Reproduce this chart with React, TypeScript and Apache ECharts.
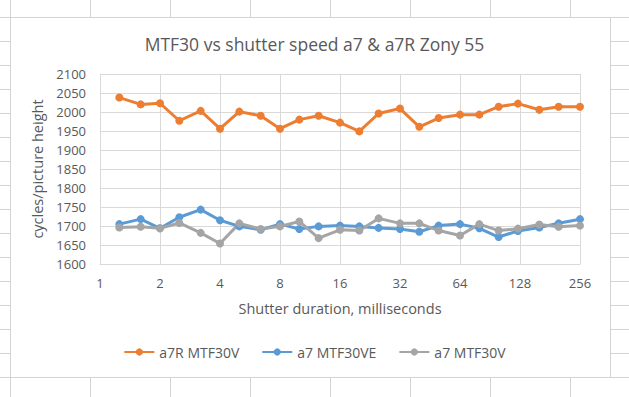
import React, { useEffect, useRef } from "react";
import * as echarts from "echarts";

const durations = [1.25, 1.6, 2, 2.5, 3.2, 4, 5, 6.4, 8, 10, 12.5, 16, 20, 25, 32, 40, 50, 64, 80, 100, 125, 160, 200, 256];
const a7rMTF30V = [2038, 2020, 2023, 1977, 2003, 1956, 2001, 1990, 1956, 1980, 1990, 1972, 1949, 1996, 2009, 1961, 1984, 1993, 1993, 2014, 2022, 2006, 2014, 2014];
const a7MTF30VE = [1705, 1718, 1694, 1723, 1743, 1715, 1699, 1690, 1705, 1692, 1699, 1701, 1699, 1695, 1692, 1685, 1701, 1705, 1694, 1671, 1687, 1696, 1707, 1718];
const a7MTF30V = [1696, 1698, 1694, 1708, 1682, 1654, 1707, 1692, 1699, 1712, 1668, 1690, 1688, 1720, 1707, 1707, 1688, 1675, 1705, 1688, 1693, 1704, 1698, 1701];
const seriesNames = ["a7R MTF30V", "a7 MTF30VE", "a7 MTF30V"];
const seriesColors = ["#ED7D31", "#5B9BD5", "#A5A5A5"];

const FONT = "'Open Sans', 'DejaVu Sans', sans-serif";
const GRIDLINE = "#d9d9d9";
const SHEET = "#d4d4d4";

export default function App() {
  const ref = useRef<HTMLDivElement>(null);
  useEffect(() => {
    document.body.style.margin = "0";
    const chart = echarts.init(ref.current!, null, { renderer: "svg" });
    const pairs = (ys: number[]) => durations.map((x, i) => [x, ys[i]]);
    const sheet: any[] = [];
    [10, 90, 170, 250, 330, 410, 490, 570].forEach((x) =>
      sheet.push({ type: "line", z: -3, shape: { x1: x + 0.5, y1: 0, x2: x + 0.5, y2: 397 }, style: { stroke: SHEET, lineWidth: 1 } })
    );
    for (let y = 17; y <= 397; y += 24) {
      sheet.push({ type: "line", z: -3, shape: { x1: 0, y1: y + 0.5, x2: 629, y2: y + 0.5 }, style: { stroke: SHEET, lineWidth: 1 } });
    }
    sheet.push({ type: "rect", z: -2, shape: { x: 10.5, y: 17.5, width: 600, height: 360 }, style: { fill: "#ffffff", stroke: SHEET, lineWidth: 1 } });

    chart.setOption({
      animation: false,
      backgroundColor: "#ffffff",
      textStyle: { fontFamily: FONT },
      graphic: sheet,
      title: {
        text: "MTF30 vs shutter speed a7 & a7R Zony 55",
        left: "center",
        top: 35,
        padding: 0,
        textStyle: { fontFamily: FONT, fontSize: 17.5, fontWeight: "normal", color: "#595959" },
      },
      grid: { left: 100, right: 49, top: 74, bottom: 133, containLabel: false, outerBoundsMode: "none" },
      xAxis: {
        type: "log",
        logBase: 2,
        min: 1,
        max: 256,
        name: "Shutter duration, milliseconds",
        nameLocation: "middle",
        nameGap: 37,
        nameTextStyle: { fontFamily: FONT, fontSize: 14.5, color: "#595959" },
        axisLine: { show: true, lineStyle: { color: GRIDLINE, width: 1 } },
        axisTick: { show: false },
        axisLabel: { fontFamily: FONT, fontSize: 13, color: "#595959", margin: 12 },
        splitLine: { show: true, lineStyle: { color: GRIDLINE, width: 1 } },
        minorTick: { show: false },
      },
      yAxis: {
        type: "value",
        min: 1600,
        max: 2100,
        interval: 50,
        name: "cycles/picture height",
        nameLocation: "middle",
        nameGap: 51,
        nameTextStyle: { fontFamily: FONT, fontSize: 14.5, color: "#595959" },
        axisLine: { show: true, lineStyle: { color: GRIDLINE, width: 1 } },
        axisTick: { show: false },
        axisLabel: { fontFamily: FONT, fontSize: 13, color: "#595959", margin: 14, formatter: (v: number) => String(v) },
        splitLine: { show: true, lineStyle: { color: GRIDLINE, width: 1 } },
      },
      legend: {
        bottom: 33,
        left: "center",
        itemWidth: 30,
        itemHeight: 9,
        itemGap: 22,
        textStyle: { fontFamily: FONT, fontSize: 14, color: "#595959" },
        data: seriesNames,
      },
      series: [a7rMTF30V, a7MTF30VE, a7MTF30V].map((ys, i) => ({
        name: seriesNames[i],
        type: "line",
        data: pairs(ys),
        symbol: "circle",
        symbolSize: 8,
        color: seriesColors[i],
        lineStyle: { width: 3, color: seriesColors[i] },
        itemStyle: { color: seriesColors[i] },
      })),
    });
    return () => chart.dispose();
  }, []);
  return <div ref={ref} style={{ width: 629, height: 397 }} />;
}
